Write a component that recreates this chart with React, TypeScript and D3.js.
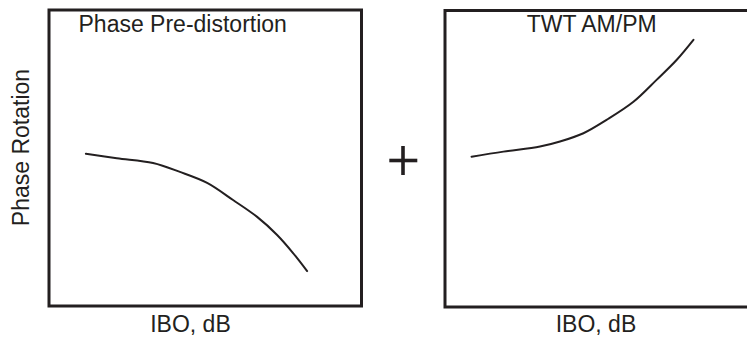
import React from "react";
import * as d3 from "d3";

// Phase pre-distortion curve (IBO, arbitrary units 0..10 ; phase rotation 0..10)
const preIbo = [1.18, 2.17, 3.33, 4.19, 5.06, 5.89, 6.66, 7.3, 7.81, 8.26];
const prePhase = [5.14, 4.99, 4.83, 4.53, 4.16, 3.58, 3.01, 2.4, 1.79, 1.18];

// TWT AM/PM curve
const twtIbo = [0.85, 1.87, 3.04, 3.68, 4.43, 5.17, 6.03, 6.77, 7.41, 7.95];
const twtPhase = [5.07, 5.24, 5.41, 5.58, 5.86, 6.31, 6.92, 7.66, 8.33, 9.01];

const titles = ["Phase Pre-distortion", "TWT AM/PM"];
const xLabel = "IBO, dB";
const yLabel = "Phase Rotation";

const W = 747;
const H = 337;
const FONT = "'Liberation Sans', Arial, Helvetica, sans-serif";
const INK = "#231f20";

type PanelProps = {
  x0: number;
  x1: number;
  y0: number;
  y1: number;
  xs: number[];
  ys: number[];
  title: string;
  titleX: number;
  titleAnchor: "start" | "middle";
  labelX: number;
};

function Panel({ x0, x1, y0, y1, xs, ys, title, titleX, titleAnchor, labelX }: PanelProps) {
  const xScale = d3.scaleLinear().domain([0, 10]).range([x0, x1]);
  const yScale = d3.scaleLinear().domain([0, 10]).range([y1, y0]);
  const line = d3
    .line<number>()
    .x((_, i) => xScale(xs[i]))
    .y((d) => yScale(d))
    .curve(d3.curveCatmullRom.alpha(0.5));
  return (
    <g>
      <rect x={x0} y={y0} width={x1 - x0} height={y1 - y0} fill="none" stroke={INK} strokeWidth={3} />
      <path d={line(ys) || ""} fill="none" stroke={INK} strokeWidth={2} strokeLinecap="round" />
      <text x={titleX} y={31.5} fontSize={23} fontFamily={FONT} fill={INK} textAnchor={titleAnchor}>
        {title}
      </text>
      <text x={labelX} y={332} fontSize={23} fontFamily={FONT} fill={INK} textAnchor="middle">
        {xLabel}
      </text>
    </g>
  );
}

export default function App() {
  return (
    <svg
      width={W}
      height={H}
      viewBox={`0 0 ${W} ${H}`}
      style={{ position: "absolute", left: 0, top: 0, background: "#fff" }}
    >
      <rect x={0} y={0} width={W} height={H} fill="#fff" />
      <Panel
        x0={49}
        x1={361.5}
        y0={10}
        y1={306}
        xs={preIbo}
        ys={prePhase}
        title={titles[0]}
        titleX={78.5}
        titleAnchor="start"
        labelX={190.5}
      />
      <Panel
        x0={445}
        x1={757.5}
        y0={10.5}
        y1={307}
        xs={twtIbo}
        ys={twtPhase}
        title={titles[1]}
        titleX={591.7}
        titleAnchor="middle"
        labelX={596}
      />
      <text
        transform="translate(28.5,147.5) rotate(-90)"
        fontSize={23}
        fontFamily={FONT}
        fill={INK}
        textAnchor="middle"
      >
        {yLabel}
      </text>
      <g stroke={INK} strokeWidth={3.6}>
        <line x1={389.3} x2={417.3} y1={160.5} y2={160.5} />
        <line x1={403} x2={403} y1={146} y2={175} />
      </g>
    </svg>
  );
}
